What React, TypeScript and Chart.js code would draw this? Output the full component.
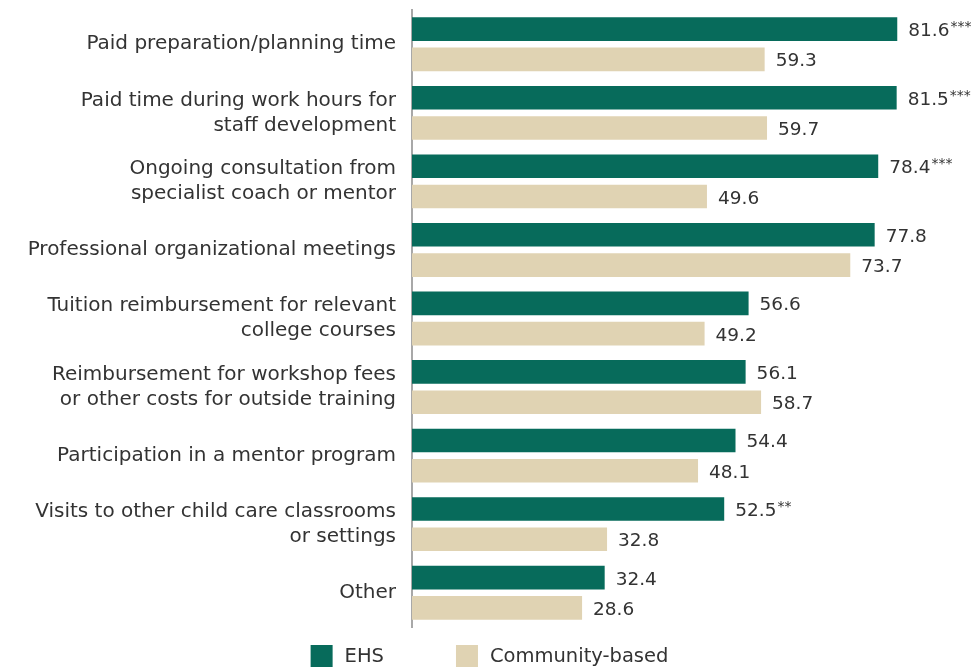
import React, { useEffect, useRef } from "react";
import { Chart, registerables } from "chart.js";

Chart.register(...registerables);

const categories: (string | string[])[] = [
  "Paid preparation/planning time",
  ["Paid time during work hours for", "staff development"],
  ["Ongoing consultation from", "specialist coach or mentor"],
  "Professional organizational meetings",
  ["Tuition reimbursement for relevant", "college courses"],
  ["Reimbursement for workshop fees", "or other costs for outside training"],
  "Participation in a mentor program",
  ["Visits to other child care classrooms", "or settings"],
  "Other",
];
const ehsValues = [81.6, 81.5, 78.4, 77.8, 56.6, 56.1, 54.4, 52.5, 32.4];
const communityValues = [59.3, 59.7, 49.6, 73.7, 49.2, 58.7, 48.1, 32.8, 28.6];
const ehsSignificance = ["***", "***", "***", "", "", "", "", "**", ""];
const communitySignificance = ["", "", "", "", "", "", "", "", ""];
const seriesNames = ["EHS", "Community-based"];

const EHS_COLOR = "#076b5b";
const COMM_COLOR = "#e0d3b3";
const TEXT_COLOR = "#333333";
const FONT = "'DejaVu Sans', sans-serif";

const valueLabelPlugin = {
  id: "valueLabels",
  afterDatasetsDraw(chart: any) {
    const ctx = chart.ctx;
    const sigs = [ehsSignificance, communitySignificance];
    ctx.save();
    chart.data.datasets.forEach((ds: any, di: number) => {
      const meta = chart.getDatasetMeta(di);
      meta.data.forEach((bar: any, i: number) => {
        const v = ds.data[i];
        const txt = v.toFixed(1);
        const x = bar.x + 11;
        const y = bar.y;
        ctx.font = `18.5px ${FONT}`;
        ctx.fillStyle = TEXT_COLOR;
        ctx.textAlign = "left";
        ctx.textBaseline = "alphabetic";
        const base = y + 7;
        ctx.fillText(txt, x, base);
        const w = ctx.measureText(txt).width;
        const s = sigs[di][i];
        if (s) {
          ctx.font = `14px ${FONT}`;
          ctx.fillText(s, x + w + 1, base - 5);
        }
      });
    });
    ctx.restore();
  },
};

const legendPlugin = {
  id: "customLegend",
  afterDraw(chart: any) {
    const ctx = chart.ctx;
    const colors = [EHS_COLOR, COMM_COLOR];
    const box = 22;
    const gapText = 12;
    const gapItem = 72;
    ctx.save();
    ctx.font = `19.5px ${FONT}`;
    const widths = seriesNames.map((n) => ctx.measureText(n).width);
    let total = 0;
    widths.forEach((w, i) => {
      total += box + gapText + w + (i < widths.length - 1 ? gapItem : 0);
    });
    let x = chart.width / 2 + 4 - total / 2;
    const top = chart.chartArea.bottom + 18;
    seriesNames.forEach((n, i) => {
      ctx.fillStyle = colors[i];
      ctx.fillRect(x, top, box, box);
      ctx.fillStyle = TEXT_COLOR;
      ctx.textAlign = "left";
      ctx.textBaseline = "middle";
      ctx.fillText(n, x + box + gapText, top + box / 2 + 1);
      x += box + gapText + widths[i] + gapItem;
    });
    ctx.restore();
  },
};

export default function App() {
  const ref = useRef<HTMLCanvasElement>(null);
  useEffect(() => {
    if (!ref.current) return;
    const chart = new Chart(ref.current, {
      type: "bar",
      data: {
        labels: categories,
        datasets: [
          {
            label: seriesNames[0],
            data: ehsValues,
            backgroundColor: EHS_COLOR,
            categoryPercentage: 0.883,
            barPercentage: 0.78,
          },
          {
            label: seriesNames[1],
            data: communityValues,
            backgroundColor: COMM_COLOR,
            categoryPercentage: 0.883,
            barPercentage: 0.78,
          },
        ],
      },
      options: {
        indexAxis: "y",
        animation: false,
        responsive: true,
        maintainAspectRatio: false,
        layout: { padding: { top: 10, bottom: 42, right: 0, left: 0 } },
        plugins: {
          legend: { display: false },
          tooltip: { enabled: false },
        },
        scales: {
          x: {
            display: false,
            min: 0,
            max: 94,
          },
          y: {
            afterFit(scale: any) {
              scale.width = 412;
              scale.paddingTop = 0;
              scale.paddingBottom = 0;
            },
            grid: { display: false, drawTicks: false },
            border: { display: true, color: "#a8a8a8", width: 2 },
            ticks: {
              padding: 16,
              color: TEXT_COLOR,
              font: { family: FONT, size: 20, lineHeight: 1.25 },
            },
          },
        },
      },
      plugins: [valueLabelPlugin, legendPlugin],
    });
    return () => chart.destroy();
  }, []);
  return (
    <div style={{ position: "fixed", left: 0, top: 0, width: 971, height: 669, background: "#fff" }}>
      <canvas ref={ref} />
    </div>
  );
}
